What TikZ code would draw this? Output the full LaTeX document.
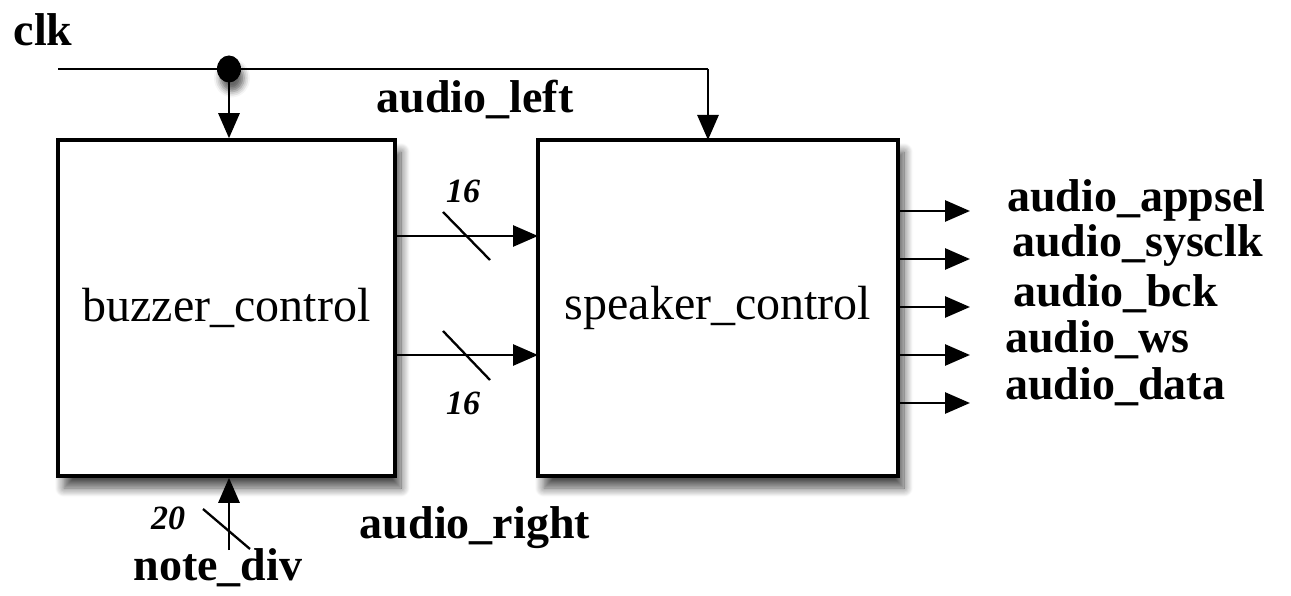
\documentclass[tikz,border=0pt]{standalone}
\usepackage{fontspec}
\setmainfont{Liberation Serif}
\usetikzlibrary{arrows.meta,shadows.blur,shapes.geometric}
\tikzset{
  wire/.style={line width=2.8pt},
  sig/.style={wire,-{Triangle[length=25pt,width=21pt]}},
  block/.style={draw,line width=3.5pt,fill=white,inner sep=0pt,
    blur shadow={shadow xshift=6pt,shadow yshift=-12pt,shadow blur radius=9pt,shadow blur steps=12,shadow opacity=70},
    font=\fontsize{48}{52}\selectfont},
  lbl/.style={font=\fontsize{46}{50}\selectfont\bfseries,inner sep=0pt},
  bus/.style={font=\fontsize{34}{38}\selectfont\bfseries\itshape,inner sep=0pt},
  slash/.style={line width=2.3pt},
}
\begin{document}
\begin{tikzpicture}[x=1pt,y=-1pt]
\useasboundingbox (0,0) rectangle (1291,596);
% blocks
\node[block,minimum width=337pt,minimum height=336pt] (buz) at (226.5,308) {buzzer\_control};
\node[block,minimum width=360pt,minimum height=336pt] (spk) at (718,308) {speaker\_control};
% clk
\node[lbl] (clk) at (43,30) {clk};
\coordinate (clkstart) at (58,69);
\coordinate (corner) at (708,69);
\coordinate (spkclk) at (708,140);
\node[ellipse,fill=black,minimum width=24pt,minimum height=27pt,inner sep=0pt,
  blur shadow={shadow xshift=3pt,shadow yshift=-9pt,shadow blur radius=6pt,shadow opacity=60}] (dot) at (229,69) {};
\draw[wire] (clkstart) -- (dot.center) -- (corner);
\draw[sig] (corner) -- (spkclk);
\draw[sig] (dot.center) -- (buz.north -| dot);
% labels
\node[lbl] (al) at (475,100) {audio\_left};
\node[lbl] (ar) at (475,528) {audio\_right};
% bus arrows
\coordinate (b1s) at (395,236); \coordinate (b1e) at (538,236);
\coordinate (b2s) at (395,355); \coordinate (b2e) at (538,355);
\draw[sig] (b1s) -- (b1e);
\draw[sig] (b2s) -- (b2e);
\draw[slash] (443,212) -- (490,260);
\draw[slash] (443,331) -- (490,380);
\node[bus] (n16a) at (463,191) {16};
\node[bus] (n16b) at (463,403) {16};
% note_div
\coordinate (nds) at (229,550);
\draw[sig] (nds) -- (buz.south -| nds);
\draw[slash] (203,509) -- (250,549);
\node[bus] (n20) at (168,518) {20};
\node[lbl] (nd) at (218,568) {note\_div};
% outputs
\foreach \y/\nm in {211/o1,259/o2,307/o3,355/o4,403/o5}{
  \coordinate (\nm s) at (898,\y);
  \coordinate (\nm e) at (970,\y);
  \draw[sig] (\nm s) -- (\nm e);
}
\node[lbl,anchor=west] (l1) at (1007,200) {audio\_appsel};
\node[lbl,anchor=west] (l2) at (1012,246) {audio\_sysclk};
\node[lbl,anchor=west] (l3) at (1013,294) {audio\_bck};
\node[lbl,anchor=west] (l4) at (1005,340) {audio\_ws};
\node[lbl,anchor=west] (l5) at (1005,387) {audio\_data};
\end{tikzpicture}
\end{document}
